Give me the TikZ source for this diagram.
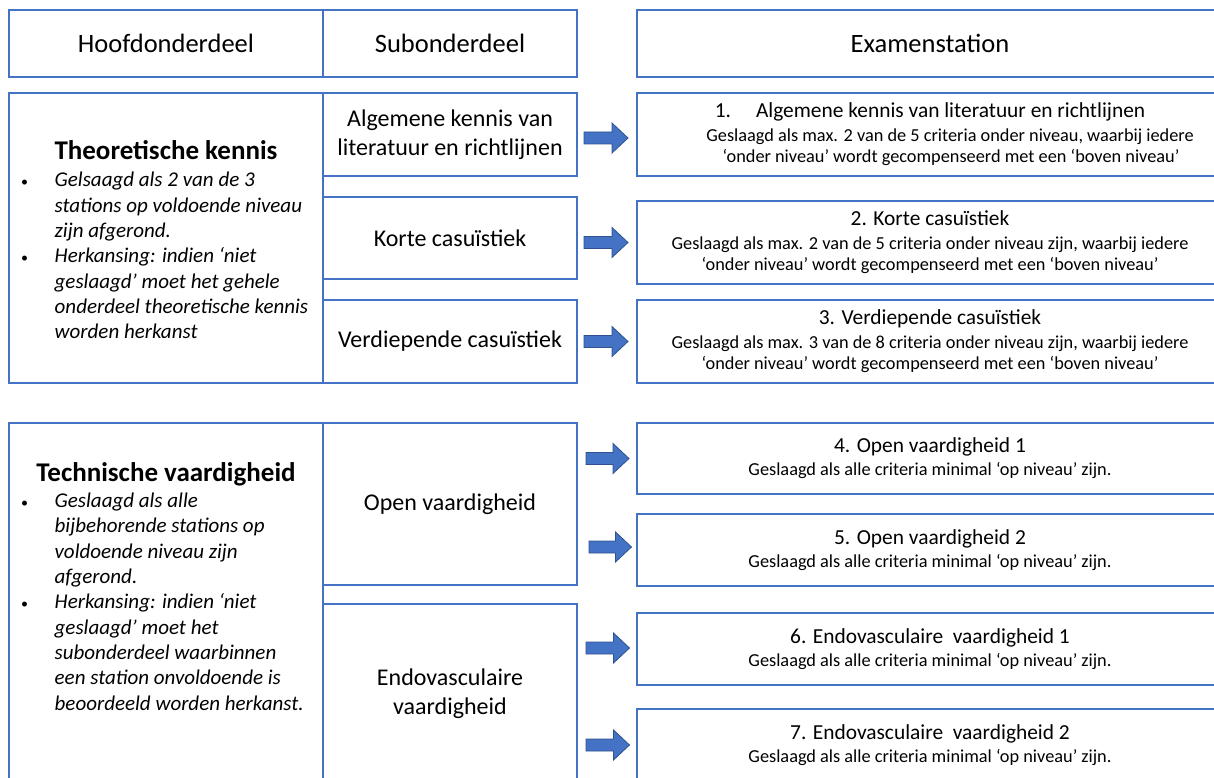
\documentclass[tikz,border=0pt]{standalone}
\usepackage{fontspec}
\setmainfont{Carlito}
\usetikzlibrary{calc}
\definecolor{bxblue}{HTML}{4472C4}
\definecolor{arrfill}{HTML}{4472C4}
\definecolor{arrline}{HTML}{2F528F}
\newcommand\rtitle{\fontsize{21.4}{24}\selectfont}
\newcommand\bul{\makebox[11pt]{\upshape\fontsize{14}{14}\selectfont •}}
\begin{document}
\begin{tikzpicture}[x=1pt,y=-1pt,
  box/.style={draw=bxblue, line width=1.5pt, inner sep=0pt, outer sep=0pt, align=center},
  hdr/.style={box, font=\fontsize{26.5}{31}\selectfont, minimum height=67pt},
  subbox/.style={box, font=\fontsize{24}{29}\selectfont, minimum width=254pt},
  rbox/.style={box, font=\fontsize{18.3}{21.7}\selectfont, minimum width=586pt},
  mainbox/.style={box, minimum width=314pt},
  maintitle/.style={inner sep=0pt, font=\fontsize{27}{32}\selectfont\bfseries, text depth=0pt},
  bullets/.style={anchor=north west, inner sep=0pt, font=\fontsize{21}{25.3}\selectfont\itshape},
  barrow/.style={fill=arrfill, draw=arrline, line width=0.8pt,
    to path={let \p1=(\tikztostart), \p2=(\tikztotarget) in
      (\x1,\y1+6pt) -- (\x2-16pt,\y1+6pt) -- (\x2-16pt,\y1+15pt) -- (\x2,\y1)
      -- (\x2-16pt,\y1-15pt) -- (\x2-16pt,\y1-6pt) -- (\x1,\y1-6pt) -- cycle}}
]
\useasboundingbox (0,0) rectangle (1214,778);
\clip (0,0) rectangle (1214,778);

% header row
\node[hdr, minimum width=314pt] (h1) at (166,43.5) {Hoofdonderdeel};
\node[hdr, minimum width=254pt] (h2) at (450,43.5) {Subonderdeel};
\node[hdr, minimum width=586pt] (h3) at (930,43.5) {Examenstation};

% theoretische kennis
\node[mainbox, minimum height=290pt] (T) at (166,238) {};
\node[maintitle] (Tt) at (166,150) {Theoretische kennis};
\node[bullets] (Tl) at (19,169) {\begin{tabular}{@{}p{35.5pt}@{}l@{}}
\bul & Gelsaagd als 2 van de 3\\
 & stations op voldoende niveau\\
 & zijn afgerond.\\
\bul & Herkansing: indien ‘niet\\
 & geslaagd’ moet het gehele\\
 & onderdeel theoretische kennis\\
 & worden herkanst
\end{tabular}};

\node[subbox, minimum height=83pt] (s1) at (450,134.5) {Algemene kennis van\\literatuur en richtlijnen};
\node[subbox, minimum height=82pt] (s2) at (450,238) {Korte casuïstiek};
\node[subbox, minimum height=83pt] (s3) at (450,341.5) {Verdiepende casuïstiek};

\node[rbox, minimum height=83pt] (r1) at (930,134.5) {{\rtitle 1.\hspace{25pt}Algemene kennis van literatuur en richtlijnen}\\[1.5pt]
\hspace*{40pt}Geslaagd als max. 2 van de 5 criteria onder niveau, waarbij iedere\\
\hspace*{42pt}‘onder niveau’ wordt gecompenseerd met een ‘boven niveau’};
\node[rbox, minimum height=83pt] (r2) at (930,242.5) {{\rtitle 2. Korte casuïstiek}\\[1.5pt]
Geslaagd als max. 2 van de 5 criteria onder niveau zijn, waarbij iedere\\
‘onder niveau’ wordt gecompenseerd met een ‘boven niveau’};
\node[rbox, minimum height=83pt] (r3) at (930,341.5) {{\rtitle 3. Verdiepende casuïstiek}\\[1.5pt]
Geslaagd als max. 3 van de 8 criteria onder niveau zijn, waarbij iedere\\
‘onder niveau’ wordt gecompenseerd met een ‘boven niveau’};

% technische vaardigheid
\node[mainbox, minimum height=360pt] (V) at (166,603) {};
\node[maintitle] (Vt) at (166,472) {Technische vaardigheid};
\node[bullets] (Vl) at (19,489.7) {\begin{tabular}{@{}p{35.5pt}@{}l@{}}
\bul & Geslaagd als alle\\
 & bijbehorende stations op\\
 & voldoende niveau zijn\\
 & afgerond.\\
\bul & Herkansing: indien ‘niet\\
 & geslaagd’ moet het\\
 & subonderdeel waarbinnen\\
 & een station onvoldoende is\\
 & beoordeeld worden herkanst.
\end{tabular}};

\node[subbox, minimum height=162pt] (s4) at (450,504) {Open vaardigheid};
\node[subbox, minimum height=179pt] (s5) at (450,693.5) {Endovasculaire\\vaardigheid};

\node[rbox, minimum height=71pt] (r4) at (930,458.5) {{\rtitle 4. Open vaardigheid 1}\\[1.5pt]
Geslaagd als alle criteria minimal ‘op niveau’ zijn.};
\node[rbox, minimum height=72pt] (r5) at (930,550) {{\rtitle 5. Open vaardigheid 2}\\[1.5pt]
Geslaagd als alle criteria minimal ‘op niveau’ zijn.};
\node[rbox, minimum height=72pt] (r6) at (930,649) {{\rtitle 6. Endovasculaire\ \ vaardigheid 1}\\[1.5pt]
Geslaagd als alle criteria minimal ‘op niveau’ zijn.};
\node[rbox, minimum height=72pt] (r7) at (930,745) {{\rtitle 7. Endovasculaire\ \ vaardigheid 2}\\[1.5pt]
Geslaagd als alle criteria minimal ‘op niveau’ zijn.};

% arrows
\draw[barrow] ($(s1.east|-r1.west)+(7,3.5)$) to ($(r1.west)+(-9,3.5)$);
\draw[barrow] ($(s2.east|-r2.west)+(7,0)$) to ($(r2.west)+(-9,0)$);
\draw[barrow] ($(s3.east|-r3.west)+(7,0)$) to ($(r3.west)+(-9,0)$);
\draw[barrow] ($(s4.east|-r4.west)+(9,0)$) to ($(r4.west)+(-8,0)$);
\draw[barrow] ($(s4.east|-r5.west)+(12,-3)$) to ($(r5.west)+(-5.5,-3)$);
\draw[barrow] ($(s5.east|-r6.west)+(9,-1)$) to ($(r6.west)+(-7.5,-1)$);
\draw[barrow] ($(s5.east|-r7.west)+(9,0)$) to ($(r7.west)+(-7.5,0)$);
\end{tikzpicture}
\end{document}
